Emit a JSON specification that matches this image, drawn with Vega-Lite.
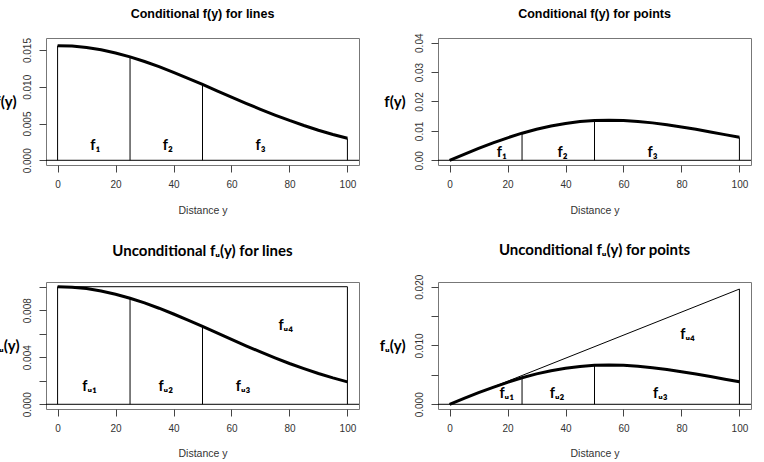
{
  "$schema": "https://vega.github.io/schema/vega-lite/v6.json",
  "background": "white",
  "padding": {"left": -8, "top": 7, "right": 5, "bottom": 5},
  "columns": 2,
  "spacing": {"row": 117, "column": 79},
  "bounds": "flush",
  "config": {
    "view": {"stroke": "#777", "strokeWidth": 1},
    "axis": {"domain": false, "grid": false, "tickColor": "#444", "tickSize": 7, "labelFont": "Liberation Sans", "labelFontSize": 10, "labelColor": "#333", "titleFont": "Liberation Sans", "titleFontWeight": "normal", "titleColor": "#333"},
    "title": {"color": "black"}
  },
  "datasets": {
    "curves": [
      {"panel": "p1", "d": 0, "v": 0.0156}, {"panel": "p1", "d": 5, "v": 0.01554}, {"panel": "p1", "d": 10, "v": 0.01534}, {"panel": "p1", "d": 15, "v": 0.01503}, {"panel": "p1", "d": 20, "v": 0.0146}, {"panel": "p1", "d": 25, "v": 0.01407}, {"panel": "p1", "d": 30, "v": 0.01344}, {"panel": "p1", "d": 35, "v": 0.01274}, {"panel": "p1", "d": 40, "v": 0.01197}, {"panel": "p1", "d": 45, "v": 0.01116}, {"panel": "p1", "d": 50, "v": 0.01032}, {"panel": "p1", "d": 55, "v": 0.00946}, {"panel": "p1", "d": 60, "v": 0.0086}, {"panel": "p1", "d": 65, "v": 0.00776}, {"panel": "p1", "d": 70, "v": 0.00694}, {"panel": "p1", "d": 75, "v": 0.00616}, {"panel": "p1", "d": 80, "v": 0.00542}, {"panel": "p1", "d": 85, "v": 0.00473}, {"panel": "p1", "d": 90, "v": 0.00409}, {"panel": "p1", "d": 95, "v": 0.00351}, {"panel": "p1", "d": 100, "v": 0.00299},
      {"panel": "p2", "d": 0, "v": 0}, {"panel": "p2", "d": 5, "v": 0.00204}, {"panel": "p2", "d": 10, "v": 0.00402}, {"panel": "p2", "d": 15, "v": 0.00591}, {"panel": "p2", "d": 20, "v": 0.00765}, {"panel": "p2", "d": 25, "v": 0.00922}, {"panel": "p2", "d": 30, "v": 0.01057}, {"panel": "p2", "d": 35, "v": 0.01169}, {"panel": "p2", "d": 40, "v": 0.01255}, {"panel": "p2", "d": 45, "v": 0.01317}, {"panel": "p2", "d": 50, "v": 0.01352}, {"panel": "p2", "d": 55, "v": 0.01364}, {"panel": "p2", "d": 60, "v": 0.01353}, {"panel": "p2", "d": 65, "v": 0.01322}, {"panel": "p2", "d": 70, "v": 0.01273}, {"panel": "p2", "d": 75, "v": 0.0121}, {"panel": "p2", "d": 80, "v": 0.01136}, {"panel": "p2", "d": 85, "v": 0.01053}, {"panel": "p2", "d": 90, "v": 0.00965}, {"panel": "p2", "d": 95, "v": 0.00874}, {"panel": "p2", "d": 100, "v": 0.00783},
      {"panel": "p3", "d": 0, "v": 0.01}, {"panel": "p3", "d": 5, "v": 0.00996}, {"panel": "p3", "d": 10, "v": 0.00984}, {"panel": "p3", "d": 15, "v": 0.00963}, {"panel": "p3", "d": 20, "v": 0.00936}, {"panel": "p3", "d": 25, "v": 0.00902}, {"panel": "p3", "d": 30, "v": 0.00862}, {"panel": "p3", "d": 35, "v": 0.00817}, {"panel": "p3", "d": 40, "v": 0.00768}, {"panel": "p3", "d": 45, "v": 0.00716}, {"panel": "p3", "d": 50, "v": 0.00662}, {"panel": "p3", "d": 55, "v": 0.00607}, {"panel": "p3", "d": 60, "v": 0.00552}, {"panel": "p3", "d": 65, "v": 0.00497}, {"panel": "p3", "d": 70, "v": 0.00445}, {"panel": "p3", "d": 75, "v": 0.00395}, {"panel": "p3", "d": 80, "v": 0.00347}, {"panel": "p3", "d": 85, "v": 0.00303}, {"panel": "p3", "d": 90, "v": 0.00262}, {"panel": "p3", "d": 95, "v": 0.00225}, {"panel": "p3", "d": 100, "v": 0.00191},
      {"panel": "p4", "d": 0, "v": 0}, {"panel": "p4", "d": 5, "v": 0.001}, {"panel": "p4", "d": 10, "v": 0.00197}, {"panel": "p4", "d": 15, "v": 0.00289}, {"panel": "p4", "d": 20, "v": 0.00374}, {"panel": "p4", "d": 25, "v": 0.00451}, {"panel": "p4", "d": 30, "v": 0.00517}, {"panel": "p4", "d": 35, "v": 0.00572}, {"panel": "p4", "d": 40, "v": 0.00614}, {"panel": "p4", "d": 45, "v": 0.00644}, {"panel": "p4", "d": 50, "v": 0.00662}, {"panel": "p4", "d": 55, "v": 0.00667}, {"panel": "p4", "d": 60, "v": 0.00662}, {"panel": "p4", "d": 65, "v": 0.00647}, {"panel": "p4", "d": 70, "v": 0.00623}, {"panel": "p4", "d": 75, "v": 0.00592}, {"panel": "p4", "d": 80, "v": 0.00555}, {"panel": "p4", "d": 85, "v": 0.00515}, {"panel": "p4", "d": 90, "v": 0.00472}, {"panel": "p4", "d": 95, "v": 0.00427}, {"panel": "p4", "d": 100, "v": 0.00383}
    ],
    "segs": [
      {"panel": "p1", "x": 0, "x2": 0, "y": 0, "y2": 0.0156},
      {"panel": "p1", "x": 25, "x2": 25, "y": 0, "y2": 0.01407},
      {"panel": "p1", "x": 50, "x2": 50, "y": 0, "y2": 0.01032},
      {"panel": "p1", "x": 100, "x2": 100, "y": 0, "y2": 0.00299},
      {"panel": "p2", "x": 25, "x2": 25, "y": 0, "y2": 0.00922},
      {"panel": "p2", "x": 50, "x2": 50, "y": 0, "y2": 0.01352},
      {"panel": "p2", "x": 100, "x2": 100, "y": 0, "y2": 0.00783},
      {"panel": "p3", "x": 0, "x2": 0, "y": 0, "y2": 0.01},
      {"panel": "p3", "x": 25, "x2": 25, "y": 0, "y2": 0.00902},
      {"panel": "p3", "x": 50, "x2": 50, "y": 0, "y2": 0.00662},
      {"panel": "p3", "x": 100, "x2": 100, "y": 0, "y2": 0.01},
      {"panel": "p3", "x": 0, "x2": 100, "y": 0.01, "y2": 0.01},
      {"panel": "p4", "x": 25, "x2": 25, "y": 0, "y2": 0.00451},
      {"panel": "p4", "x": 50, "x2": 50, "y": 0, "y2": 0.00662},
      {"panel": "p4", "x": 100, "x2": 100, "y": 0, "y2": 0.0196},
      {"panel": "p4", "x": 0, "x2": 100, "y": 0, "y2": 0.0196}
    ],
    "labels": [
      {"panel": "p1", "x": 13, "y": 0.002, "t": "f₁"},
      {"panel": "p1", "x": 38, "y": 0.002, "t": "f₂"},
      {"panel": "p1", "x": 70, "y": 0.002, "t": "f₃"},
      {"panel": "p2", "x": 18, "y": 0.0025, "t": "f₁"},
      {"panel": "p2", "x": 39, "y": 0.0025, "t": "f₂"},
      {"panel": "p2", "x": 70, "y": 0.0025, "t": "f₃"},
      {"panel": "p3", "x": 11, "y": 0.0015, "t": "fᵤ₁"},
      {"panel": "p3", "x": 37.3, "y": 0.0015, "t": "fᵤ₂"},
      {"panel": "p3", "x": 64, "y": 0.0015, "t": "fᵤ₃"},
      {"panel": "p3", "x": 78.7, "y": 0.0067, "t": "fᵤ₄"},
      {"panel": "p4", "x": 19.7, "y": 0.0017, "t": "fᵤ₁"},
      {"panel": "p4", "x": 37.1, "y": 0.0017, "t": "fᵤ₂"},
      {"panel": "p4", "x": 72.7, "y": 0.0017, "t": "fᵤ₃"},
      {"panel": "p4", "x": 82.1, "y": 0.0118, "t": "fᵤ₄"}
    ]
  },
  "concat": [
    {
      "width": 313, "height": 127,
      "title": {"text": "Conditional f(y) for lines", "font": "Liberation Sans", "fontWeight": "bold", "fontSize": 12.5, "offset": 17},
      "encoding": {
        "x": {"type": "quantitative", "scale": {"domain": [-4, 104], "nice": false, "zero": false}, "axis": {"title": "Distance y", "values": [0, 20, 40, 60, 80, 100], "format": "d", "labelPadding": 7, "titlePadding": 16, "titleFontSize": 10.5}},
        "y": {"type": "quantitative", "scale": {"domain": [-0.00064, 0.01664], "nice": false, "zero": false}, "axis": {"title": "f(y)", "values": [0, 0.005, 0.01, 0.015], "format": ".3f", "labelAngle": -90, "labelAlign": "center", "labelBaseline": "bottom", "labelPadding": 7, "titleAngle": 0, "titleAlign": "right", "titleBaseline": "middle", "titleX": -30, "titleY": 63.5, "titleFont": "Lato", "titleFontWeight": "bold", "titleFontSize": 15, "titleColor": "black"}}
      },
      "layer": [
        {"data": {"values": [{}]}, "mark": {"type": "rule", "color": "black", "strokeWidth": 1}, "encoding": {"y": {"datum": 0, "type": "quantitative"}}},
        {"data": {"name": "segs"}, "transform": [{"filter": "datum.panel === 'p1'"}], "mark": {"type": "rule", "color": "black", "strokeWidth": 1}, "encoding": {"x": {"field": "x"}, "x2": {"field": "x2"}, "y": {"field": "y"}, "y2": {"field": "y2"}}},
        {"data": {"name": "curves"}, "transform": [{"filter": "datum.panel === 'p1'"}], "mark": {"type": "line", "color": "black", "strokeWidth": 3}, "encoding": {"x": {"field": "d"}, "y": {"field": "v"}}},
        {"data": {"name": "labels"}, "transform": [{"filter": "datum.panel === 'p1'"}], "mark": {"type": "text", "font": "Lato", "fontWeight": "bold", "fontSize": 14.5, "color": "black"}, "encoding": {"x": {"field": "x"}, "y": {"field": "y"}, "text": {"field": "t"}}}
      ]
    },
    {
      "width": 313, "height": 127,
      "title": {"text": "Conditional f(y) for points", "font": "Liberation Sans", "fontWeight": "bold", "fontSize": 12.5, "offset": 12.5},
      "encoding": {
        "x": {"type": "quantitative", "scale": {"domain": [-4, 104], "nice": false, "zero": false}, "axis": {"title": "Distance y", "values": [0, 20, 40, 60, 80, 100], "format": "d", "labelPadding": 7, "titlePadding": 16, "titleFontSize": 10.5}},
        "y": {"type": "quantitative", "scale": {"domain": [-0.0016, 0.0416], "nice": false, "zero": false}, "axis": {"title": "f(y)", "values": [0, 0.01, 0.02, 0.03, 0.04], "format": ".2f", "labelAngle": -90, "labelAlign": "center", "labelBaseline": "bottom", "labelPadding": 7, "titleAngle": 0, "titleAlign": "right", "titleBaseline": "middle", "titleX": -33, "titleY": 63.5, "titleFont": "Lato", "titleFontWeight": "bold", "titleFontSize": 15, "titleColor": "black"}}
      },
      "layer": [
        {"data": {"values": [{}]}, "mark": {"type": "rule", "color": "black", "strokeWidth": 1}, "encoding": {"y": {"datum": 0, "type": "quantitative"}}},
        {"data": {"name": "segs"}, "transform": [{"filter": "datum.panel === 'p2'"}], "mark": {"type": "rule", "color": "black", "strokeWidth": 1}, "encoding": {"x": {"field": "x"}, "x2": {"field": "x2"}, "y": {"field": "y"}, "y2": {"field": "y2"}}},
        {"data": {"name": "curves"}, "transform": [{"filter": "datum.panel === 'p2'"}], "mark": {"type": "line", "color": "black", "strokeWidth": 3}, "encoding": {"x": {"field": "d"}, "y": {"field": "v"}}},
        {"data": {"name": "labels"}, "transform": [{"filter": "datum.panel === 'p2'"}], "mark": {"type": "text", "font": "Lato", "fontWeight": "bold", "fontSize": 14.5, "color": "black"}, "encoding": {"x": {"field": "x"}, "y": {"field": "y"}, "text": {"field": "t"}}}
      ]
    },
    {
      "width": 313, "height": 127,
      "title": {"text": "Unconditional fᵤ(y) for lines", "font": "Lato", "fontWeight": "bold", "fontSize": 15, "offset": 22},
      "encoding": {
        "x": {"type": "quantitative", "scale": {"domain": [-4, 104], "nice": false, "zero": false}, "axis": {"title": "Distance y", "values": [0, 20, 40, 60, 80, 100], "format": "d", "labelPadding": 7, "titlePadding": 15, "titleFontSize": 10.5}},
        "y": {"type": "quantitative", "scale": {"domain": [-0.0004, 0.0104], "nice": false, "zero": false}, "axis": {"title": "fᵤ(y)", "values": [0, 0.002, 0.004, 0.006, 0.008, 0.01], "labelExpr": "round(datum.value * 1000) % 4 === 0 ? format(datum.value, '.3f') : ''", "labelAngle": -90, "labelAlign": "center", "labelBaseline": "bottom", "labelPadding": 7, "titleAngle": 0, "titleAlign": "right", "titleBaseline": "middle", "titleX": -27, "titleY": 63.5, "titleFont": "Lato", "titleFontWeight": "bold", "titleFontSize": 15, "titleColor": "black"}}
      },
      "layer": [
        {"data": {"values": [{}]}, "mark": {"type": "rule", "color": "black", "strokeWidth": 1}, "encoding": {"y": {"datum": 0, "type": "quantitative"}}},
        {"data": {"name": "segs"}, "transform": [{"filter": "datum.panel === 'p3'"}], "mark": {"type": "rule", "color": "black", "strokeWidth": 1}, "encoding": {"x": {"field": "x"}, "x2": {"field": "x2"}, "y": {"field": "y"}, "y2": {"field": "y2"}}},
        {"data": {"name": "curves"}, "transform": [{"filter": "datum.panel === 'p3'"}], "mark": {"type": "line", "color": "black", "strokeWidth": 3}, "encoding": {"x": {"field": "d"}, "y": {"field": "v"}}},
        {"data": {"name": "labels"}, "transform": [{"filter": "datum.panel === 'p3'"}], "mark": {"type": "text", "font": "Lato", "fontWeight": "bold", "fontSize": 14.5, "color": "black"}, "encoding": {"x": {"field": "x"}, "y": {"field": "y"}, "text": {"field": "t"}}}
      ]
    },
    {
      "width": 313, "height": 127,
      "title": {"text": "Unconditional fᵤ(y) for points", "font": "Lato", "fontWeight": "bold", "fontSize": 15, "offset": 16.5},
      "encoding": {
        "x": {"type": "quantitative", "scale": {"domain": [-4, 104], "nice": false, "zero": false}, "axis": {"title": "Distance y", "values": [0, 20, 40, 60, 80, 100], "format": "d", "labelPadding": 7, "titlePadding": 15, "titleFontSize": 10.5}},
        "y": {"type": "quantitative", "scale": {"domain": [-0.0008, 0.0208], "nice": false, "zero": false}, "axis": {"title": "fᵤ(y)", "values": [0, 0.005, 0.01, 0.015, 0.02], "labelExpr": "round(datum.value * 1000) % 10 === 0 ? format(datum.value, '.3f') : ''", "labelAngle": -90, "labelAlign": "center", "labelBaseline": "bottom", "labelPadding": 7, "titleAngle": 0, "titleAlign": "right", "titleBaseline": "middle", "titleX": -33, "titleY": 63.5, "titleFont": "Lato", "titleFontWeight": "bold", "titleFontSize": 15, "titleColor": "black"}}
      },
      "layer": [
        {"data": {"values": [{}]}, "mark": {"type": "rule", "color": "black", "strokeWidth": 1}, "encoding": {"y": {"datum": 0, "type": "quantitative"}}},
        {"data": {"name": "segs"}, "transform": [{"filter": "datum.panel === 'p4'"}], "mark": {"type": "rule", "color": "black", "strokeWidth": 1}, "encoding": {"x": {"field": "x"}, "x2": {"field": "x2"}, "y": {"field": "y"}, "y2": {"field": "y2"}}},
        {"data": {"name": "curves"}, "transform": [{"filter": "datum.panel === 'p4'"}], "mark": {"type": "line", "color": "black", "strokeWidth": 3}, "encoding": {"x": {"field": "d"}, "y": {"field": "v"}}},
        {"data": {"name": "labels"}, "transform": [{"filter": "datum.panel === 'p4'"}], "mark": {"type": "text", "font": "Lato", "fontWeight": "bold", "fontSize": 14.5, "color": "black"}, "encoding": {"x": {"field": "x"}, "y": {"field": "y"}, "text": {"field": "t"}}}
      ]
    }
  ]
}
